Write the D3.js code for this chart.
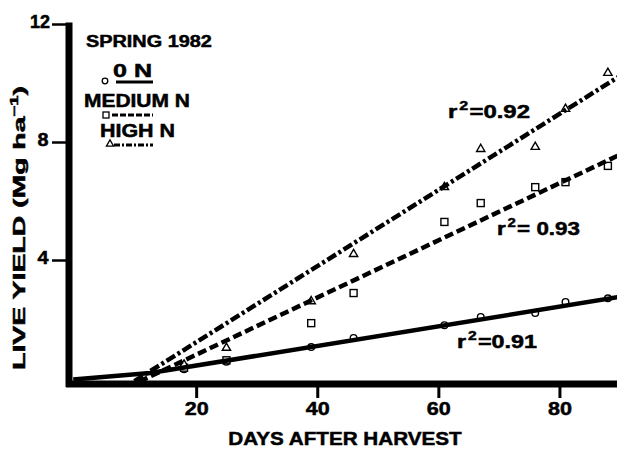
<!DOCTYPE html>
<html>
<head>
<meta charset="utf-8">
<script src="https://cdn.jsdelivr.net/npm/d3@7"></script>
<style>
  body { margin: 0; background: #fff; }
  text { font-family: "Liberation Sans", Arial, Helvetica, sans-serif; font-weight: bold; fill: #000; stroke: #000; stroke-width: 0.5px; }
</style>
</head>
<body>
<script>
// sampling days and live yield (Mg/ha)
const days = [18, 25, 39, 46, 61, 67, 76, 81, 88];
const zeroN = [0.3, 0.55, 1.05, 1.36, 1.79, 2.07, 2.2, 2.58, 2.7];
const mediumN = [0.35, 0.6, 1.86, 2.88, 5.29, 5.93, 6.47, 6.64, 7.19];
const highN = [0.45, 1.02, 2.6, 4.2, 6.47, 7.76, 7.83, 9.12, 10.34];

// fitted lines: yield = intercept + slope * day
const seriesNames = ["0 N", "MEDIUM N", "HIGH N"];
const fitSlope = [0.0333, 0.0969, 0.129];
const fitIntercept = [-0.245, -1.15, -1.37];
const fitStart = [12.4, 10.6, 9.8];
const rSquared = ["0.91", "0.93", "0.92"];

const xTicks = [20, 40, 60, 80];
const yTicks = [4, 8, 12];

const w = 617;
const h = 449;

const svg = d3.select("body").append("svg").attr("width", w).attr("height", h);

const x = d3.scaleLinear().domain([-1, 90]).range([69, 620]);
const y = d3.scaleLinear().domain([0, 12]).range([378, 24]);

// stretch a text element horizontally so it spans `width` px (the scan's font is wide)
function fit(sel, width) {
  const bw = sel.node().getBBox().width;
  const t = sel.attr("transform") || "";
  sel.attr("transform", t + ` scale(${width / bw},1)`);
  return sel;
}

function label(px, py, str, size, width, anchor) {
  const g = svg.append("g").attr("transform", `translate(${px},${py})`);
  const t = g.append("text").attr("text-anchor", anchor || "start").style("font-size", size + "px").text(str);
  fit(t, width);
  return t;
}

const styles = [
  { dash: null, marker: "circle" },
  { dash: "9,4", marker: "square" },
  { dash: "10,3,3,3", marker: "triangle" }
];

// markers first, lines drawn over them
const allSeries = [zeroN, mediumN, highN];
allSeries.forEach((vals, i) => {
  const pts = days.map((d, j) => [d, vals[j]]);
  const g = svg.append("g");
  if (styles[i].marker === "circle") {
    g.selectAll("circle").data(pts).enter().append("circle")
      .attr("cx", (d) => x(d[0])).attr("cy", (d) => y(d[1])).attr("r", 3.3)
      .attr("fill", "#fff").attr("stroke", "#000").attr("stroke-width", 1.4);
  } else if (styles[i].marker === "square") {
    g.selectAll("rect").data(pts).enter().append("rect")
      .attr("x", (d) => x(d[0]) - 3.5).attr("y", (d) => y(d[1]) - 3.5)
      .attr("width", 7).attr("height", 7)
      .attr("fill", "#fff").attr("stroke", "#000").attr("stroke-width", 1.4);
  } else {
    g.selectAll("path").data(pts).enter().append("path")
      .attr("d", d3.symbol(d3.symbolTriangle, 30))
      .attr("transform", (d) => `translate(${x(d[0])},${y(d[1])})`)
      .attr("fill", "#fff").attr("stroke", "#000").attr("stroke-width", 1.4);
  }
});

// regression lines
const line = d3.line().x((d) => x(d[0])).y((d) => y(d[1]));
seriesNames.forEach((name, i) => {
  const f = (d) => fitIntercept[i] + fitSlope[i] * d;
  let pts = [[fitStart[i], f(fitStart[i])], [90, f(90)]];
  if (i === 0) pts = [[-0.3, -0.05]].concat(pts);
  svg.append("path")
    .attr("d", line(pts))
    .attr("fill", "none")
    .attr("stroke", "#000")
    .attr("stroke-width", 4.5)
    .attr("stroke-dasharray", styles[i].dash);
});

// axes
const xAxis = d3.axisBottom(x).tickValues(xTicks).tickSize(11).tickPadding(4);
const gx = svg.append("g").attr("transform", "translate(0,387)").call(xAxis);
gx.select(".domain").remove();
gx.selectAll(".tick line").attr("stroke", "#000").attr("stroke-width", 3);
gx.selectAll(".tick text").style("font-size", "19px").each(function () { fit(d3.select(this), 24); });
svg.append("line").attr("x1", 66).attr("x2", 617).attr("y1", 384).attr("y2", 384)
  .attr("stroke", "#000").attr("stroke-width", 7);

const yAxis = d3.axisLeft(y).tickValues(yTicks).tickSize(14).tickPadding(2);
const gy = svg.append("g").attr("transform", "translate(66,0)").call(yAxis);
gy.select(".domain").remove();
gy.selectAll(".tick line").attr("stroke", "#000").attr("stroke-width", 2.5);
gy.selectAll(".tick text").style("font-size", "18px").attr("dy", "0.2em")
  .each(function (d) { fit(d3.select(this), d >= 10 ? 20 : 11); });
svg.append("line").attr("x1", 69).attr("x2", 69).attr("y1", y(12) - 1.5).attr("y2", 387)
  .attr("stroke", "#000").attr("stroke-width", 7);

// axis titles
label(345, 445, "DAYS AFTER HARVEST", 19, 234, "middle");

const ytg = svg.append("g").attr("transform", "translate(25,228) rotate(-90)");
const yt = ytg.append("text").attr("text-anchor", "middle").style("font-size", "17px");
yt.append("tspan").text("LIVE YIELD (Mg ha");
yt.append("tspan").attr("dy", -7).style("font-size", "11px").text("\u22121");
yt.append("tspan").attr("dy", 7).text(")");
fit(yt, 284);

// title and legend
label(86, 47, "SPRING 1982", 17, 126);

const legendText = [[113, 77, 39], [84, 107, 106], [100, 137, 75]];
const legendLine = [[116, 153, 82], [112, 153, 115], [114, 153, 145]];
const legendMark = [[105, 81], [106, 115], [110, 144]];
seriesNames.forEach((name, i) => {
  label(legendText[i][0], legendText[i][1], name, 18, legendText[i][2]);
  svg.append("line").attr("x1", legendLine[i][0]).attr("x2", legendLine[i][1])
    .attr("y1", legendLine[i][2]).attr("y2", legendLine[i][2])
    .attr("stroke", "#000").attr("stroke-width", 3)
    .attr("stroke-dasharray", i === 1 ? "6,2" : i === 2 ? "6,2,2,2" : null);
  const m = legendMark[i];
  if (i === 0) {
    svg.append("circle").attr("cx", m[0]).attr("cy", m[1]).attr("r", 2.8)
      .attr("fill", "#fff").attr("stroke", "#000").attr("stroke-width", 1.3);
  } else if (i === 1) {
    svg.append("rect").attr("x", m[0] - 3).attr("y", m[1] - 3).attr("width", 6).attr("height", 6)
      .attr("fill", "#fff").attr("stroke", "#000").attr("stroke-width", 1.3);
  } else {
    svg.append("path").attr("d", d3.symbol(d3.symbolTriangle, 22))
      .attr("transform", `translate(${m[0]},${m[1]})`)
      .attr("fill", "#fff").attr("stroke", "#000").attr("stroke-width", 1.3);
  }
});

// r-squared labels
const rPos = [[457, 348, 80], [497, 235, 83], [448, 118, 82]];
rSquared.forEach((r, i) => {
  const g = svg.append("g").attr("transform", `translate(${rPos[i][0]},${rPos[i][1]})`);
  const t = g.append("text").style("font-size", "18px");
  t.append("tspan").text("r");
  t.append("tspan").attr("dx", 1.5).attr("dy", -8).style("font-size", "12px").text("2");
  t.append("tspan").attr("dx", 1).attr("dy", 8).text((i === 1 ? "= " : "=") + r);
  fit(t, rPos[i][2]);
});
</script>
</body>
</html>
